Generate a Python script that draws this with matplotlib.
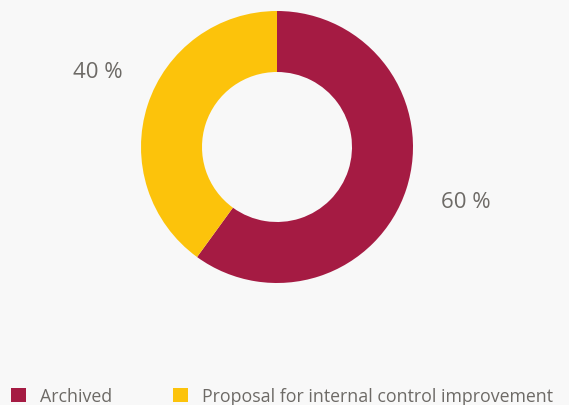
import matplotlib.pyplot as plt
from matplotlib.patches import Patch

labels = ['Archived', 'Proposal for internal control improvement']
values = [60, 40]
pct_labels = ['60 %', '40 %']
# label anchor points (pixels from top-left), one per slice
label_pos = [(466, 203), (98, 73)]
colors = ['#a51b43', '#fcc30b']

bg = '#f8f8f8'
txt = '#6d6a66'

fig = plt.figure(figsize=(5.69, 4.06), dpi=100, facecolor=bg)
ax = fig.add_axes([0, 0, 1, 1])
ax.set_facecolor(bg)

wedges, texts = ax.pie(values, labels=pct_labels, colors=colors, startangle=90,
                       counterclock=False, center=(277, 258), radius=136,
                       frame=True,
                       wedgeprops=dict(width=61, linewidth=0),
                       textprops=dict(color=txt, fontsize=16, family='Open Sans'))
for t, (x, y) in zip(texts, label_pos):
    t.set_position((x, 406 - y))
    t.set_ha('center')
    t.set_va('center')
ax.set_xlim(0, 569)
ax.set_ylim(0, 406)
ax.set_aspect('equal')
ax.axis('off')

handles = [Patch(facecolor=c, edgecolor='none') for c in colors]
leg = fig.legend(handles, labels, loc='lower left', bbox_to_anchor=(11 / 569, 0),
                 ncol=2, frameon=False, borderpad=0, borderaxespad=0,
                 handlelength=0.85, handleheight=0.85, handletextpad=0.8,
                 columnspacing=3.4,
                 prop=dict(family='Open Sans', size=12.8))
for t in leg.get_texts():
    t.set_color(txt)

fig.savefig('out.png', dpi=100, facecolor=bg)
